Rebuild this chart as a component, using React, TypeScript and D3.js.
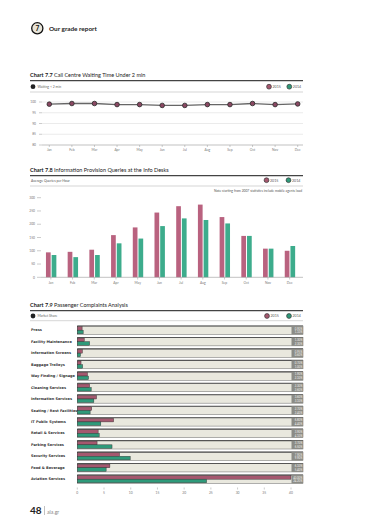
import React from "react";
import * as d3 from "d3";

const months = ["Jan","Feb","Mar","Apr","May","Jun","Jul","Aug","Sep","Oct","Nov","Dec"];
const waiting2015 = [99.0, 99.3, 99.3, 98.8, 98.8, 98.4, 98.4, 98.8, 98.8, 99.3, 98.8, 99.1];
const waitTicks = [80, 85, 90, 95, 100];

const queries2015 = [94, 96, 104, 159, 188, 244, 268, 274, 227, 156, 108, 100];
const queries2014 = [84, 76, 84, 128, 146, 193, 222, 216, 203, 156, 108, 118];
const queryTicks = [0, 50, 100, 150, 200, 250, 300];

const complaintCats = ["Press","Facility Maintenance","Information Screens","Baggage Trolleys","Way Finding / Signage","Cleaning Services","Information Services","Seating / Rest Facilities","IT Public Systems","Retail & Services","Parking Services","Security Services","Food & Beverage","Aviation Services"];
const complaints2015 = [0.9, 1.3, 0.95, 0.7, 1.9, 2.3, 3.6, 2.7, 6.8, 3.9, 3.7, 7.9, 6.1, 40.0];
const complaints2014 = [1.1, 2.3, 0.6, 1.0, 2.1, 2.6, 3.1, 2.4, 4.4, 4.1, 6.5, 9.9, 5.4, 24.2];
const complaintTicks = [0, 5, 10, 15, 20, 25, 30, 35, 40];

const PINK = "#b9627f";
const TEAL = "#3dac8c";
const PINK2 = "#a5586f";
const TEAL2 = "#2f9a7a";
const FONT = "Lato, 'DejaVu Sans', sans-serif";

function Legend({ y, x1, x2 }: { y: number; x1: number; x2: number }) {
  return (
    <g fontSize={3.6} fill="#555">
      <circle cx={x1} cy={y} r={2.4} fill={PINK2} stroke="#333" strokeWidth={0.7} />
      <text x={x1 + 3.5} y={y + 1.3}>2015</text>
      <circle cx={x2} cy={y} r={2.4} fill={TEAL2} stroke="#333" strokeWidth={0.7} />
      <text x={x2 + 3.5} y={y + 1.3}>2014</text>
    </g>
  );
}

function Title({ y, num, text }: { y: number; num: string; text: string }) {
  return (
    <g>
      <text x={30} y={y} fontSize={5.5} fill="#222">
        <tspan fontWeight="bold">{num}</tspan>
        <tspan> {text}</tspan>
      </text>
      <line x1={30} x2={303} y1={y + 3.6} y2={y + 3.6} stroke="#444" strokeWidth={1.2} />
    </g>
  );
}

export default function App() {
  // Chart 7.7
  const x77 = d3.scalePoint<string>().domain(months).range([49.3, 297.7]);
  const y77 = d3.scaleLinear().domain([80, 100]).range([145, 102]);
  const line77 = d3.line<number>().x((_, i) => x77(months[i])!).y((d) => y77(d));

  // Chart 7.8
  const x78 = d3.scaleBand<string>().domain(months).range([40, 300.5]).padding(0);
  const y78 = d3.scaleLinear().domain([0, 300]).range([277.3, 197.7]);
  const bw = 4.7;

  // Chart 7.9
  const x79 = d3.scaleLinear().domain([0, 40]).range([77.3, 291]);
  const rowY = d3.scaleLinear().domain([0, complaintCats.length - 1]).range([330, 479]);

  return (
    <svg width={380} height={525} style={{ position: "absolute", left: 0, top: 0, background: "#fff" }} fontFamily={FONT}>
      {/* Header */}
      <circle cx={37.3} cy={28.3} r={5.6} fill="#e8e4d8" stroke="#111" strokeWidth={1.3} />
      <text x={37.3} y={30.6} fontSize={6.5} fontWeight="bold" textAnchor="middle" fill="#111">7</text>
      <text x={49} y={30.6} fontSize={6.4} fontWeight="bold" fill="#222">Our grade report</text>

      {/* Chart 7.7 */}
      <Title y={77} num="Chart 7.7" text="Call Centre Waiting Time Under 2 min" />
      <circle cx={33} cy={86.7} r={2.4} fill="#222" />
      <text x={37.5} y={88} fontSize={3.4} fill="#666">Waiting &lt; 2 min</text>
      <Legend y={86.7} x1={269} x2={289.3} />
      <line x1={30} x2={303} y1={92} y2={92} stroke="#bbb" strokeWidth={0.6} />
      {waitTicks.map((t) => (
        <g key={t}>
          <line x1={42} x2={303} y1={y77(t)} y2={y77(t)} stroke={t === 80 ? "#999" : "#ddd"} strokeWidth={0.6} />
          <line x1={39} x2={42} y1={y77(t)} y2={y77(t)} stroke="#999" strokeWidth={0.5} />
          <text x={36} y={y77(t) + 1.2} fontSize={3.3} textAnchor="end" fill="#777">{t}</text>
        </g>
      ))}
      {months.map((m) => (
        <g key={m}>
          <line x1={x77(m)} x2={x77(m)} y1={145} y2={147} stroke="#999" strokeWidth={0.5} />
          <text x={x77(m)} y={151} fontSize={3.3} textAnchor="middle" fill="#777">{m}</text>
        </g>
      ))}
      <path d={line77(waiting2015) || ""} fill="none" stroke="#666" strokeWidth={1.3} />
      {waiting2015.map((v, i) => (
        <circle key={i} cx={x77(months[i])} cy={y77(v)} r={2.3} fill="#8a4862" stroke="#2a2a2a" strokeWidth={0.8} />
      ))}

      {/* Chart 7.8 */}
      <Title y={172} num="Chart 7.8" text="Information Provision Queries at the Info Desks" />
      <text x={31} y={181.5} fontSize={3.4} fill="#555">Average Queries per Hour</text>
      <Legend y={180.2} x1={266.5} x2={288.5} />
      <line x1={30} x2={303} y1={186} y2={186} stroke="#bbb" strokeWidth={0.6} />
      <text x={302} y={191.5} fontSize={3.3} textAnchor="end" fill="#555">Note starting from 2007 statistics include mobile agents load</text>
      {queryTicks.map((t) => (
        <g key={t}>
          <line x1={37} x2={41} y1={y78(t)} y2={y78(t)} stroke="#999" strokeWidth={0.5} />
          <text x={35} y={y78(t) + 1.2} fontSize={3.3} textAnchor="end" fill="#777">{t}</text>
        </g>
      ))}
      {months.map((m, i) => {
        const c = x78(m)! + x78.bandwidth() / 2;
        return (
          <g key={m}>
            <rect x={c - bw - 0.2} y={y78(queries2015[i])} width={bw} height={y78(0) - y78(queries2015[i])} fill={PINK} />
            <rect x={c + 0.8} y={y78(queries2014[i])} width={bw} height={y78(0) - y78(queries2014[i])} fill={TEAL} />
            <line x1={c} x2={c} y1={277.3} y2={279.5} stroke="#999" strokeWidth={0.5} />
            <text x={c} y={284} fontSize={3.3} textAnchor="middle" fill="#777">{m}</text>
          </g>
        );
      })}
      <line x1={41} x2={303} y1={277.3} y2={277.3} stroke="#999" strokeWidth={0.6} />

      {/* Chart 7.9 */}
      <Title y={307} num="Chart 7.9" text="Passenger Complaints Analysis" />
      <circle cx={33} cy={316} r={2.4} fill="#222" />
      <text x={37.5} y={317.3} fontSize={3.4} fill="#666">Market Share</text>
      <Legend y={316} x1={267} x2={289} />
      <line x1={30} x2={303} y1={320.7} y2={320.7} stroke="#bbb" strokeWidth={0.6} />
      {complaintCats.map((c, i) => {
        const cy = rowY(i);
        return (
          <text key={c} x={31} y={cy + 1.3} fontSize={3.5} fontWeight="bold" fill="#333" fontFamily="'DejaVu Sans', sans-serif">{c}</text>
        );
      })}
      {complaintCats.map((c, i) => {
        const cy = rowY(i);
        const top = cy - 4;
        return (
          <g key={c}>
            <rect x={77.3} y={top} width={303 - 77.3} height={8.4} fill="#e9e8de" stroke="#666" strokeWidth={0.5} />
            <line x1={77.3} x2={303} y1={top} y2={top} stroke="#555" strokeWidth={1.1} />
            <rect x={77.3} y={top + 0.6} width={x79(complaints2015[i]) - 77.3} height={3.6} fill={PINK2} stroke="#333" strokeWidth={0.45} />
            <rect x={77.3} y={top + 4.2} width={x79(complaints2014[i]) - 77.3} height={3.6} fill={TEAL2} stroke="#333" strokeWidth={0.45} />
            <rect x={291.5} y={top} width={11.5} height={8.4} fill="#8c8c86" />
            <text x={302.3} y={top + 3.6} fontSize={2.7} textAnchor="end" fill="#f4f4f0">{complaints2015[i].toFixed(2)}%</text>
            <text x={302.3} y={top + 7.4} fontSize={2.7} textAnchor="end" fill="#f4f4f0">{complaints2014[i].toFixed(2)}%</text>
          </g>
        );
      })}
      {complaintTicks.map((t) => (
        <g key={t}>
          <line x1={x79(t)} x2={x79(t)} y1={487.5} y2={489.5} stroke="#999" strokeWidth={0.5} />
          <text x={x79(t)} y={493.5} fontSize={3.3} textAnchor="middle" fill="#777">{t}</text>
        </g>
      ))}

      {/* Footer */}
      <text x={30} y={514} fontSize={10} fontWeight="bold" fill="#222">48</text>
      <line x1={44.5} x2={44.5} y1={506} y2={515} stroke="#999" strokeWidth={0.6} />
      <text x={47} y={513.5} fontSize={5.2} fill="#888">aia.gr</text>
    </svg>
  );
}
